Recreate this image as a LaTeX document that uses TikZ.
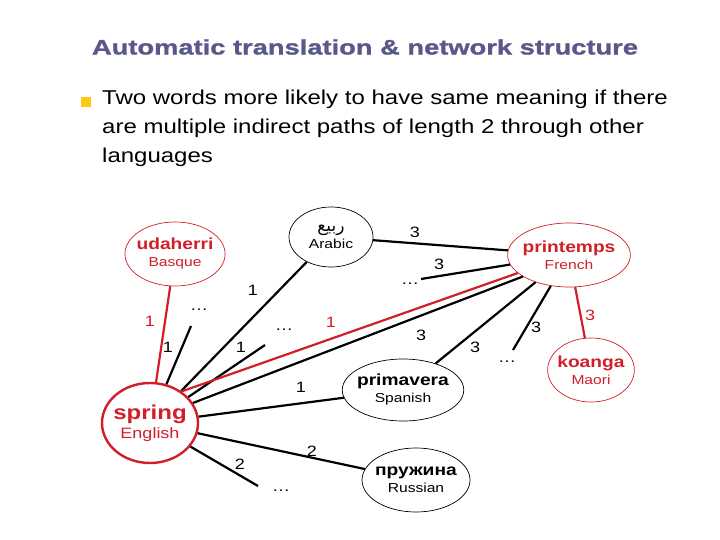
\documentclass[tikz,border=0pt]{standalone}
\usepackage{fontspec}
\setmainfont[FakeStretch=1.2]{Liberation Sans}
\newfontfamily\titlefont[FakeStretch=1.3,FakeBold=1.2]{Liberation Sans Bold}
\newfontfamily\arabicfont[Script=Arabic]{DejaVu Sans}
\TeXXeTstate=1
\usetikzlibrary{shapes.geometric}
\definecolor{ttl}{RGB}{88,88,138}
\definecolor{bul}{RGB}{255,200,20}
\definecolor{rd}{RGB}{210,30,40}
\begin{document}
\begin{tikzpicture}[x=1pt,y=-1pt,
  wn/.style={ellipse,draw,line width=0.7pt,inner sep=-3pt,align=center,font=\fontsize{13}{17}\selectfont},
  rn/.style={wn,draw=rd,text=rd},
  bl/.style={line width=2.2pt,black},
  rl/.style={line width=2.2pt,rd},
  lb/.style={font=\fontsize{15}{17}\selectfont,inner sep=0pt},
  dt/.style={font=\fontsize{15}{17}\selectfont,inner sep=0pt}]
\useasboundingbox (0,0) rectangle (720,540);
\node[font=\titlefont\fontsize{21}{24}\selectfont,text=ttl] (title) at (365,47) {Automatic translation \& network structure};
\node[fill=bul,minimum size=10pt,inner sep=0pt] (bullet) at (86,102) {};
\node[anchor=north west,align=left,font=\fontsize{20}{29}\selectfont,inner sep=0pt] (txt) at (102,90)
 {Two words more likely to have same meaning if there\\are multiple indirect paths of length 2 through other\\languages};
\node[rn,minimum width=96pt,minimum height=64pt] (uda) at (175,254) {\textbf{\fontsize{16}{18}\selectfont udaherri}\\Basque};
\node[wn,minimum width=84pt,minimum height=60pt] (ara) at (331,237) {{\arabicfont\fontsize{17}{18}\selectfont\beginR ربيع\endR}\\Arabic};
\node[rn,minimum width=114pt,minimum height=64pt] (pri) at (569,255) {\textbf{\fontsize{16}{18}\selectfont printemps}\\French};
\node[rn,line width=2.4pt,minimum width=96pt,minimum height=80pt,font=\fontsize{15}{19}\selectfont] (spr) at (150,423) {\textbf{\fontsize{20}{22}\selectfont spring}\\English};
\node[wn,minimum width=116pt,minimum height=62pt] (pma) at (403,390) {\textbf{\fontsize{16}{18}\selectfont primavera}\\Spanish};
\node[wn,minimum width=108pt,minimum height=64pt] (rus) at (416,480) {\textbf{\fontsize{16}{18}\selectfont пружина}\\Russian};
\node[rn,minimum width=84pt,minimum height=64pt] (koa) at (591,370) {\textbf{\fontsize{16}{18}\selectfont koanga}\\Maori};
\coordinate (e1) at (191,326);
\coordinate (e2) at (265,345);
\coordinate (e3) at (421,279);
\coordinate (e4) at (513,350);
\coordinate (e5) at (258,486);
\node[dt] (d1) at (199,310) {\dots};
\node[dt] (d2) at (284,330) {\dots};
\node[dt] (d3) at (410,284) {\dots};
\node[dt] (d4) at (507,362) {\dots};
\node[dt] (d5) at (281,491) {\dots};
\draw[rl] (uda) -- (spr);
\draw[bl] (spr) -- (e1);
\draw[bl] (spr) -- (ara);
\draw[bl] (spr) -- (e2);
\draw[rl] (spr.45) -- (pri);
\draw[bl] (spr.25) -- (pri.205);
\draw[bl] (spr) -- (pma);
\draw[bl] (spr) -- (rus);
\draw[bl] (spr) -- (e5);
\draw[bl] (ara) -- (pri);
\draw[bl] (e3) -- (pri);
\draw[bl] (pma) -- (pri);
\draw[bl] (e4) -- (pri);
\draw[rl] (pri) -- (koa);
\node[lb,text=rd] (l1) at (150,321) {1};
\node[lb] (l2) at (168,347) {1};
\node[lb] (l3) at (253,290) {1};
\node[lb] (l4) at (241,347) {1};
\node[lb,text=rd] (l5) at (331,322) {1};
\node[lb] (l6) at (421,335) {3};
\node[lb] (l7) at (475,347) {3};
\node[lb] (l8) at (536,327) {3};
\node[lb,text=rd] (l9) at (590,315) {3};
\node[lb] (l10) at (415,232) {3};
\node[lb] (l11) at (439,264) {3};
\node[lb] (l12) at (301,387) {1};
\node[lb] (l13) at (312,451) {2};
\node[lb] (l14) at (240,464) {2};
\end{tikzpicture}
\end{document}
